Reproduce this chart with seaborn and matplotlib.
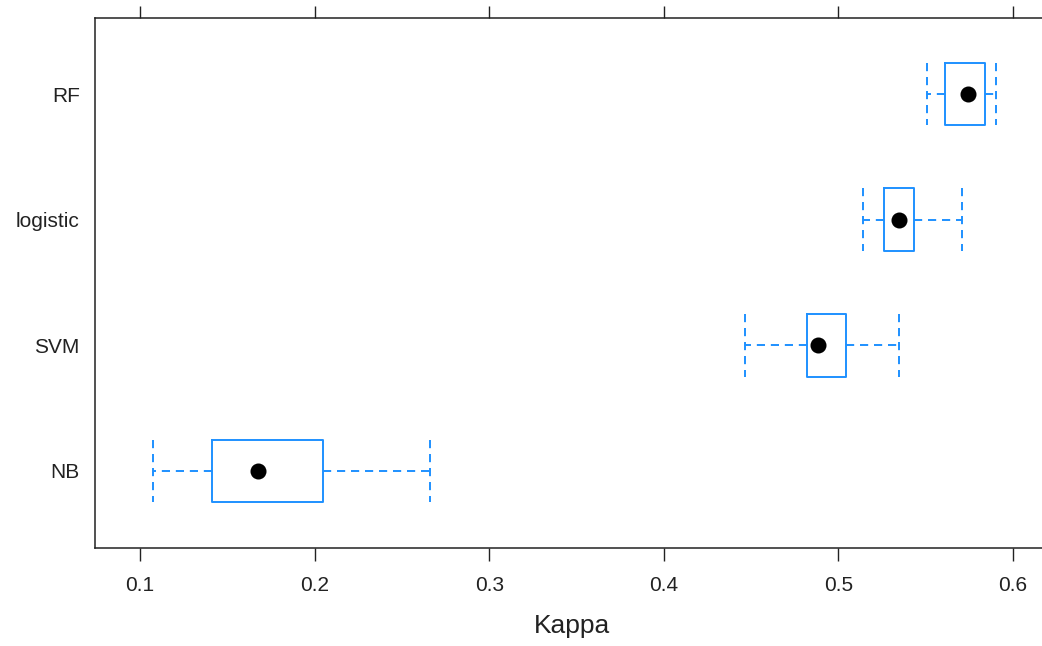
import matplotlib
matplotlib.use("Agg")
import matplotlib.pyplot as plt
import numpy as np
import pandas as pd
import seaborn as sns

# ---- data ----
models = ["RF", "logistic", "SVM", "NB"]
kappa_min = [0.5507, 0.5141, 0.4465, 0.1074]
kappa_q1 = [0.5611, 0.5261, 0.4820, 0.1412]
kappa_median = [0.5742, 0.5347, 0.4883, 0.1676]
kappa_q3 = [0.5840, 0.5433, 0.5044, 0.2048]
kappa_max = [0.5903, 0.5708, 0.5347, 0.2661]
x_ticks = [0.1, 0.2, 0.3, 0.4, 0.5, 0.6]
x_tick_labels = ["0.1", "0.2", "0.3", "0.4", "0.5", "0.6"]

# five summary values per model -> boxplot quartiles exactly
rows = []
for m, a, b, c, d, e in zip(models, kappa_min, kappa_q1, kappa_median, kappa_q3, kappa_max):
    for v in (a, b, c, d, e):
        rows.append({"model": m, "Kappa": v})
df = pd.DataFrame(rows)
med_df = pd.DataFrame({"model": models, "Kappa": kappa_median})

sns.set_style("white")
plt.rcParams["font.family"] = ["Liberation Sans", "DejaVu Sans"]

BLUE = "#1E90FF"
W, H = 1042, 646
fig = plt.figure(figsize=(W / 100, H / 100), dpi=100)
ax = fig.add_axes([95 / W, 1 - 548 / H, (1048 - 95) / W, (548 - 18) / H])

dash = (0, (4.2, 3.0))
sns.boxplot(
    data=df, x="Kappa", y="model", order=models, orient="h",
    whis=(0, 100), width=0.5, fill=False, color=BLUE, linecolor=BLUE,
    linewidth=1.4, showfliers=False,
    whiskerprops=dict(linestyle=dash, color=BLUE),
    capprops=dict(linestyle=dash, color=BLUE),
    medianprops=dict(visible=False),
    capwidths=0.5,
    ax=ax,
)
sns.pointplot(
    data=med_df, x="Kappa", y="model", order=models, orient="h",
    color="black", linestyle="none", markers="o", markersize=9.5,
    errorbar=None, ax=ax,
)

ax.set_xlim(0.0742, 0.62)
ax.set_ylim(3.613, -0.605)
ax.set_xticks(x_ticks)
ax.set_xticklabels(x_tick_labels)
ax.tick_params(axis="x", which="both", bottom=True, top=True, labeltop=False,
               direction="out", length=9, width=1.0, color="#222222",
               labelsize=15, pad=11, labelcolor="#222222")
ax.tick_params(axis="y", length=0, pad=11, labelsize=15, labelcolor="#222222")
for s in ax.spines.values():
    s.set_visible(True)
    s.set_color("#222222")
    s.set_linewidth(1.1)
ax.set_ylabel("")
ax.set_xlabel("Kappa", fontsize=19, labelpad=14, color="#222222")

fig.savefig("out.png", dpi=100)
